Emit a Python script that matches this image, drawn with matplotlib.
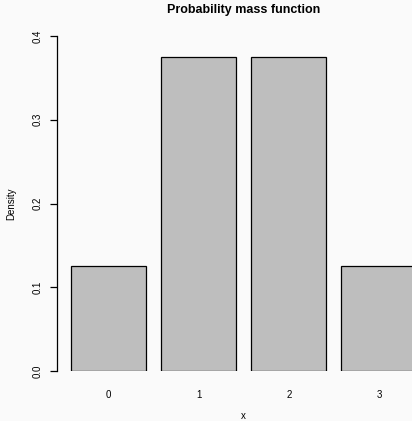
import matplotlib
matplotlib.use("Agg")
import matplotlib.pyplot as plt

# pmf of x = number of heads in 3 fair coin tosses
x_vals = [0, 1, 2, 3]
x_labels = ["0", "1", "2", "3"]
density = [0.125, 0.375, 0.375, 0.125]
y_ticks = [0.0, 0.1, 0.2, 0.3, 0.4]
y_labels = ["0.0", "0.1", "0.2", "0.3", "0.4"]

plt.rcParams['font.family'] = ['Liberation Sans', 'DejaVu Sans']

W, H = 412, 421
bg = '#fafafa'
fig = plt.figure(figsize=(W / 100, H / 100), dpi=100, facecolor=bg)

# plot area: y axis line at x=57px, 0.0 at y=371px, 0.4 at y=36px
left, bottom, top = 57, 371, 36
ax = fig.add_axes([left / W, (H - bottom) / H, (W - left) / W, (bottom - top) / H])
ax.set_facecolor(bg)

ax.bar(x_vals, density, width=1 / 1.2, color='#bebebe', edgecolor='black', linewidth=0.9)
ax.set_ylim(0, 0.4)
ax.set_xlim(-0.572, 3.367)

for s in ['top', 'right', 'bottom']:
    ax.spines[s].set_visible(False)
ax.spines['left'].set_linewidth(0.9)
ax.spines['left'].set_bounds(0, 0.4)

ax.set_yticks(y_ticks)
ax.set_yticklabels(y_labels, rotation=90, va='center')
ax.tick_params(axis='y', length=5, width=0.9, pad=5, labelsize=7)
ax.set_xticks(x_vals)
ax.set_xticklabels(x_labels)
ax.tick_params(axis='x', length=0, pad=14, labelsize=7)

ax.set_ylabel("Density", fontsize=7)
ax.yaxis.set_label_coords(-0.116, 0.5)

fig.text(243.5 / W, 1 - 10 / H, "Probability mass function", ha='center', va='center',
         fontsize=9, fontweight='bold')
fig.text(243 / W, 1 - 416 / H, "x", ha='center', va='center', fontsize=7)

fig.savefig("out.png", dpi=100, facecolor=bg)
